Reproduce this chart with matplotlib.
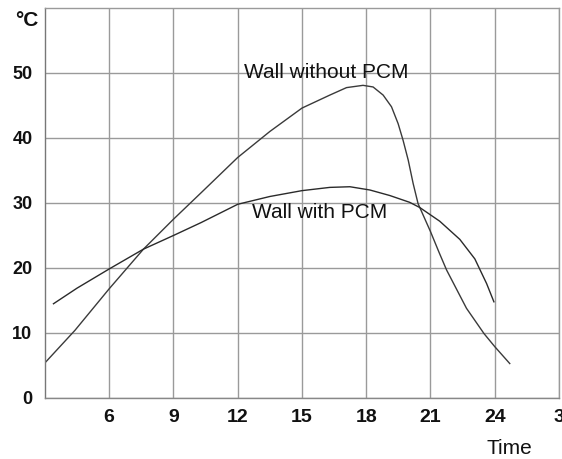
import matplotlib
matplotlib.use("Agg")
import matplotlib.pyplot as plt

# Data
time_without = [3.0, 4.4, 6.0, 7.6, 9.0, 10.3, 12.0, 13.5, 15.0, 16.3, 17.08, 17.85,
                18.32, 18.79, 19.18, 19.49, 19.72, 19.96, 20.19, 20.42, 21.0, 21.4,
                21.75, 22.68, 23.5, 24.0, 24.7]
temp_without = [5.4, 10.4, 16.8, 22.9, 27.5, 31.6, 37.0, 41.0, 44.6, 46.6, 47.75, 48.1,
                47.85, 46.6, 44.8, 42.2, 39.65, 36.6, 33.0, 29.9, 25.6, 22.4,
                19.7, 13.8, 9.9, 7.9, 5.3]

time_with = [3.4, 4.5, 6.0, 7.6, 9.0, 10.3, 12.0, 13.5, 15.0, 16.3, 17.24, 18.17,
             19.1, 20.03, 20.5, 21.43, 22.37, 23.07, 23.62, 23.96]
temp_with = [14.5, 16.9, 19.85, 22.9, 25.0, 27.0, 29.8, 31.0, 31.9, 32.4, 32.5, 32.0,
             31.15, 30.1, 29.3, 27.2, 24.4, 21.4, 17.6, 14.8]

x_ticks = [6, 9, 12, 15, 18, 21, 24, 27]
x_labels = ["6", "9", "12", "15", "18", "21", "24", "3"]
y_ticks = [0, 10, 20, 30, 40, 50]
y_labels = ["0", "10", "20", "30", "40", "50"]

label_without = "Wall without PCM"
label_with = "Wall with PCM"

plt.rcParams['font.family'] = ['Liberation Sans', 'DejaVu Sans']

fig = plt.figure(figsize=(5.62, 4.59), dpi=100)
ax = fig.add_axes([0.0799, 0.1329, 0.9148, 0.8497])

ax.plot(time_without, temp_without, color="#3a3a3a", lw=1.0)
ax.plot(time_with, temp_with, color="#2a2a2a", lw=1.0)

ax.set_xlim(3, 27)
ax.set_ylim(0, 60)
ax.set_xticks(x_ticks)
ax.set_xticklabels(x_labels, fontsize=14, fontweight="bold", color="#111111")
ax.set_yticks(y_ticks)
ax.set_yticklabels(y_labels, fontsize=13, fontweight="bold", color="#111111")
ax.tick_params(axis="both", length=0)
ax.tick_params(axis="x", pad=8)
ax.tick_params(axis="y", pad=9)

ax.grid(True, color="#9a9a9a", lw=1.0)
ax.set_axisbelow(True)
for side, sp in ax.spines.items():
    sp.set_color("#9a9a9a")
    sp.set_linewidth(1.0)
ax.spines["left"].set_color("#777777")
ax.spines["bottom"].set_color("#888888")

ax.text(16.15, 50.1, label_without, ha="center", va="center", fontsize=15, color="#111111")
ax.text(15.84, 28.6, label_with, ha="center", va="center", fontsize=15, color="#111111")

fig.text(27 / 562, 1 - 20 / 459, "°C", ha="center", va="center", fontsize=15,
         fontweight="bold", color="#111111")
fig.text(509 / 562, 1 - 448 / 459, "Time", ha="center", va="center", fontsize=15,
         color="#111111")

fig.savefig("out.png", dpi=100)
